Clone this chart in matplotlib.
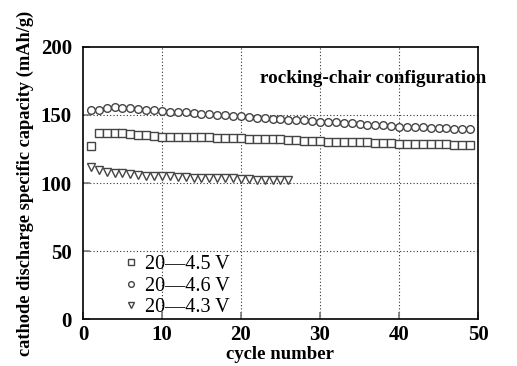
import matplotlib
matplotlib.use("Agg")
import matplotlib.pyplot as plt
import numpy as np

plt.rcParams['font.family'] = ['Liberation Serif', 'DejaVu Serif']

cycles_45 = list(range(1, 50))
cap_45 = [127, 137, 137, 137, 136.5, 136, 135, 135, 134.5, 134, 134, 134, 134, 133.5, 133.5, 133.5, 133, 133, 133, 133,
          132.5, 132.5, 132, 132, 132, 131.5, 131.5, 131, 131, 131, 130.5, 130.5, 130, 130, 130, 130, 129.5, 129.5, 129.5, 129,
          129, 129, 128.5, 128.5, 128.5, 128.5, 128, 128, 128]

cycles_46 = list(range(1, 50))
cap_46 = [153.5, 154, 155, 156, 155.5, 155, 154.5, 154, 153.5, 153, 152.5, 152, 152, 151.5, 151, 150.5, 150, 150, 149.5, 149,
          148.5, 148, 147.5, 147, 147, 146.5, 146, 146, 145.5, 145, 145, 144.5, 144, 144, 143.5, 143, 142.5, 142.5, 142, 141.5,
          141.5, 141, 141, 140.5, 140.5, 140.5, 140, 140, 140]

cycles_43 = list(range(1, 27))
cap_43 = [112, 109.5, 108, 107.5, 107, 106.5, 106, 105.5, 105.5, 105, 105, 104.5, 104.5, 104, 104, 104, 103.5, 103.5, 103.5, 103,
          103, 102.5, 102.5, 102.5, 102, 102]

labels = ['20\u20144.5 V', '20\u20144.6 V', '20\u20144.3 V']
x_ticks = [0, 10, 20, 30, 40, 50]
y_ticks = [0, 50, 100, 150, 200]

fig = plt.figure(figsize=(5.17, 3.66), dpi=100)
ax = fig.add_axes([0.1605, 0.1284, 0.7641, 0.7432])

ec = '#444444'
ax.plot(cycles_45, cap_45, linestyle='none', marker='s', markersize=6, markerfacecolor='white',
        markeredgecolor=ec, markeredgewidth=1.0, label=labels[0])
ax.plot(cycles_46, cap_46, linestyle='none', marker='o', markersize=5.5, markerfacecolor='white',
        markeredgecolor=ec, markeredgewidth=1.0, label=labels[1])
ax.plot(cycles_43, cap_43, linestyle='none', marker='v', markersize=6, markerfacecolor='white',
        markeredgecolor=ec, markeredgewidth=1.0, label=labels[2])

ax.set_xlim(0, 50)
ax.set_ylim(0, 200)
ax.set_xticks(x_ticks)
ax.set_yticks(y_ticks)
ax.set_xticklabels([str(v) for v in x_ticks], fontsize=15, fontweight='bold')
ax.set_yticklabels([str(v) for v in y_ticks], fontsize=15, fontweight='bold')
ax.tick_params(direction='in', length=5, width=1.2, color='#777777')
ax.tick_params(axis='y', pad=8)
ax.tick_params(axis='x', pad=4)

for v in [10, 20, 30, 40]:
    ax.axvline(v, color='#333333', linestyle=(0, (1, 2)), linewidth=0.8, zorder=0)
for v in [50, 100, 150]:
    ax.axhline(v, color='#333333', linestyle=(0, (1, 2)), linewidth=0.8, zorder=0)

for s in ax.spines.values():
    s.set_linewidth(1.2)
    s.set_color('black')

ax.set_xlabel('cycle number', fontsize=13.5, fontweight='bold', labelpad=1)
ax.set_ylabel('cathode discharge specific capacity (mAh/g)', fontsize=13.2, fontweight='bold', labelpad=5)

ax.text(1.02, 0.885, 'rocking-chair configuration', transform=ax.transAxes, ha='right', va='center',
        fontsize=13.8, fontweight='bold')

leg = ax.legend(loc='lower left', bbox_to_anchor=(0.05, -0.06), frameon=False, prop={'size': 14.5},
                handletextpad=0.2, labelspacing=0.12, markerscale=0.75, handlelength=1.0)

fig.savefig('out.png', dpi=100)
